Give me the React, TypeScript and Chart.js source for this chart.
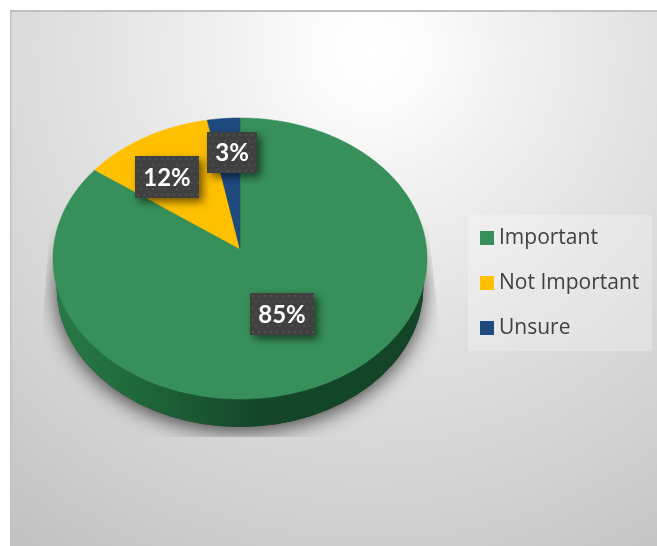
import { useEffect, useRef } from "react";
import { Chart, registerables } from "chart.js";

Chart.register(...registerables);

const categories = ["Important", "Not Important", "Unsure"];
const shares = [85, 12, 3];
const sliceColors = ["#37905A", "#FFC000", "#1E4A80"];

const WIDTH = 657;
const HEIGHT = 546;

// Tilted disc: a circle seen in perspective, nearer edge at the bottom.
const APEX = { x: 240, y: 249 };
const RADIUS_X = 186.6;
const RADIUS_Y = 139.9;
const PERSPECTIVE = -0.0676;
const RIM = { cx: 240, cy: 286.5, rx: 183.5, ry: 140.5 };

// Centres of the dark value badges, in category order.
const badgeCentres = [
  { x: 282, y: 314, w: 64, h: 42 },
  { x: 167, y: 177, w: 64, h: 42 },
  { x: 232, y: 152.5, w: 50, h: 41 },
];

function project(angle: number, f = 1) {
  const ux = Math.cos(angle) * f;
  const uy = Math.sin(angle) * f;
  const d = 1 + PERSPECTIVE * uy;
  return { x: APEX.x + (RADIUS_X * ux) / d, y: APEX.y + (RADIUS_Y * uy) / d };
}

function dotPattern(ctx: CanvasRenderingContext2D) {
  const tile = document.createElement("canvas");
  tile.width = 12;
  tile.height = 12;
  const t = tile.getContext("2d")!;
  t.fillStyle = "#404040";
  t.fillRect(0, 0, 12, 12);
  t.fillStyle = "#4f4f4f";
  [[2, 2], [8, 2], [5, 8], [11, 8]].forEach(([x, y]) => t.fillRect(x, y, 2, 2));
  return ctx.createPattern(tile, "repeat")!;
}

const tiltedPie = {
  id: "tiltedPie",
  beforeDraw(chart: Chart) {
    const { ctx } = chart;
    ctx.save();
    ctx.fillStyle = "#ffffff";
    ctx.fillRect(0, 0, WIDTH, HEIGHT);
    const g = ctx.createRadialGradient(370, 50, 0, 370, 50, 600);
    g.addColorStop(0, "#ffffff");
    g.addColorStop(0.1, "#fbfbfb");
    g.addColorStop(0.25, "#f0f0f0");
    g.addColorStop(0.5, "#e0e0e0");
    g.addColorStop(0.75, "#d2d2d2");
    g.addColorStop(1, "#c2c2c2");
    ctx.fillStyle = g;
    ctx.fillRect(10, 10, WIDTH - 10, HEIGHT - 10);
    ctx.fillStyle = "#c2c2c2";
    ctx.fillRect(10, 10, WIDTH - 10, 2);
    ctx.fillRect(10, 10, 1.5, HEIGHT - 10);
    ctx.restore();
  },
  beforeDatasetsDraw(chart: Chart) {
    const { ctx } = chart;
    const arcs = chart.getDatasetMeta(0).data as any[];

    // Soft cast shadow, cut off by its bounding shape as the renderer does.
    ctx.save();
    ctx.beginPath();
    ctx.moveTo(50, 225);
    ctx.lineTo(428, 225);
    ctx.lineTo(441, 345);
    ctx.lineTo(441, 437);
    ctx.lineTo(41, 437);
    ctx.lineTo(41, 345);
    ctx.closePath();
    ctx.clip();
    ctx.shadowColor = "rgba(0,0,0,0.7)";
    ctx.shadowBlur = 20;
    ctx.shadowOffsetY = 4;
    ctx.fillStyle = "#333";
    ctx.beginPath();
    ctx.ellipse(RIM.cx, RIM.cy, RIM.rx, RIM.ry, 0, 0, Math.PI * 2);
    ctx.fill();
    ctx.restore();

    // Side wall of the disc.
    ctx.save();
    const wall = ctx.createLinearGradient(RIM.cx - RIM.rx, 0, RIM.cx + RIM.rx, 0);
    wall.addColorStop(0, "#287a47");
    wall.addColorStop(0.2, "#206a3b");
    wall.addColorStop(0.55, "#14462a");
    wall.addColorStop(1, "#134428");
    ctx.fillStyle = wall;
    ctx.beginPath();
    ctx.ellipse(RIM.cx, RIM.cy, RIM.rx, RIM.ry, 0, 0, Math.PI * 2);
    ctx.fill();
    ctx.restore();

    // Top face: each slice spans the angles computed by the arc elements.
    arcs.forEach((arc, i) => {
      const { startAngle, endAngle } = arc.getProps(["startAngle", "endAngle"], true);
      ctx.save();
      ctx.beginPath();
      ctx.moveTo(APEX.x, APEX.y);
      const steps = Math.max(8, Math.ceil((endAngle - startAngle) * 60));
      for (let s = 0; s <= steps; s++) {
        const p = project(startAngle + ((endAngle - startAngle) * s) / steps);
        ctx.lineTo(p.x, p.y);
      }
      ctx.closePath();
      ctx.fillStyle = sliceColors[i];
      ctx.fill();
      ctx.strokeStyle = sliceColors[i];
      ctx.lineWidth = 0.5;
      ctx.stroke();
      ctx.restore();
    });
    return false;
  },
  afterDraw(chart: Chart) {
    const { ctx } = chart;
    const pattern = dotPattern(ctx);

    // Value badges.
    shares.forEach((v, i) => {
      const b = badgeCentres[i];
      const left = b.x - b.w / 2;
      const top = b.y - b.h / 2;
      ctx.save();
      ctx.shadowColor = "rgba(0,0,0,0.55)";
      ctx.shadowBlur = 8;
      ctx.shadowOffsetX = 4;
      ctx.shadowOffsetY = 4;
      ctx.fillStyle = "#404040";
      ctx.fillRect(left, top, b.w, b.h);
      ctx.restore();
      ctx.save();
      ctx.translate(left, top);
      ctx.fillStyle = pattern;
      ctx.fillRect(0, 0, b.w, b.h);
      ctx.restore();
      ctx.save();
      ctx.fillStyle = "#ffffff";
      ctx.font = "bold 24px Lato";
      ctx.textAlign = "center";
      ctx.textBaseline = "middle";
      ctx.fillText(`${v}%`, b.x, b.y + 1);
      ctx.restore();
    });

    // Legend panel.
    ctx.save();
    ctx.fillStyle = "rgba(255,255,255,0.25)";
    ctx.fillRect(468, 215, 184, 136);
    ctx.font = '21px "Open Sans"';
    ctx.textBaseline = "middle";
    categories.forEach((name, i) => {
      const y = 238 + i * 45;
      ctx.fillStyle = sliceColors[i];
      ctx.fillRect(480, y - 7, 14, 14);
      ctx.fillStyle = "#404040";
      ctx.fillText(name, 499, y);
    });
    ctx.restore();
  },
};

export default function App() {
  const ref = useRef<HTMLCanvasElement>(null);
  useEffect(() => {
    const chart = new Chart(ref.current!, {
      type: "pie",
      data: {
        labels: categories,
        datasets: [{ data: shares, backgroundColor: sliceColors, borderWidth: 0 }],
      },
      options: {
        animation: false,
        responsive: false,
        plugins: { legend: { display: false }, tooltip: { enabled: false } },
      },
      plugins: [tiltedPie],
    });
    return () => chart.destroy();
  }, []);
  return (
    <canvas
      ref={ref}
      width={WIDTH}
      height={HEIGHT}
      style={{ position: "fixed", left: 0, top: 0, display: "block" }}
    />
  );
}
